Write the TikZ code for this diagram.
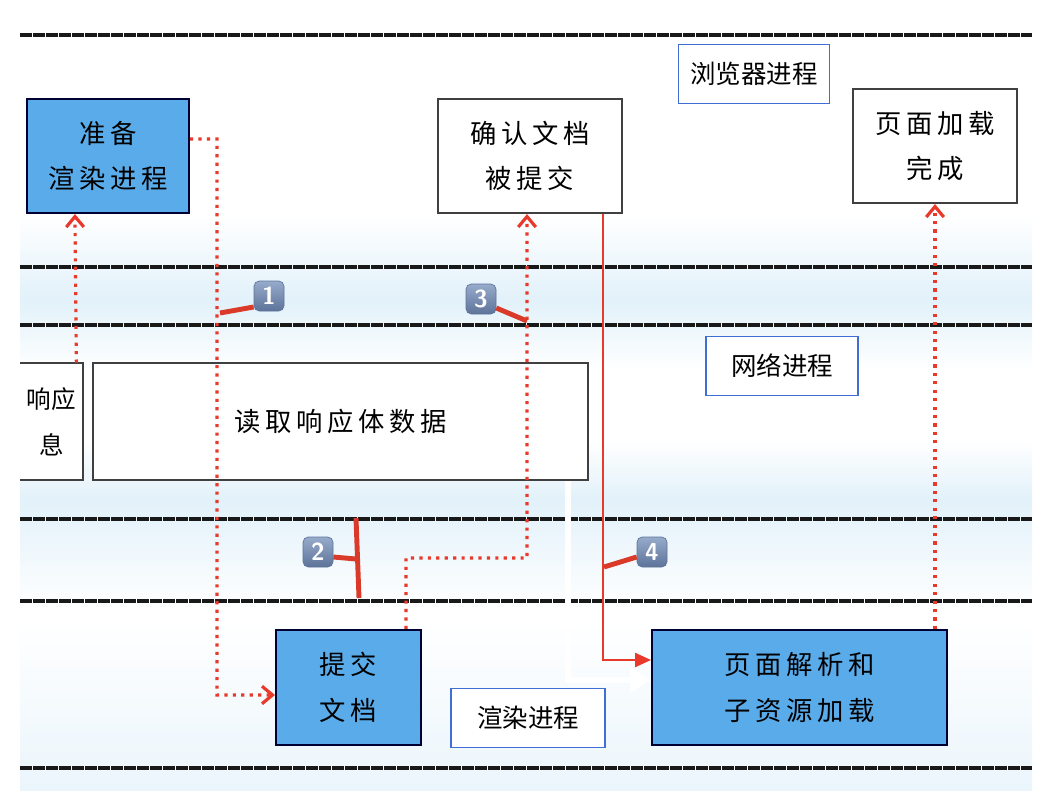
\documentclass[tikz,border=0pt]{standalone}
\usepackage{fontspec}
\usepackage{xcolor}
\usepackage{tikz}
\usetikzlibrary{arrows.meta}
\setmainfont{Noto Sans CJK SC}
\newfontfamily\hand[LetterSpace=18]{Noto Sans CJK SC}
\definecolor{boxblue}{HTML}{5AABEA}
\definecolor{linered}{HTML}{E8392B}
\definecolor{tickred}{HTML}{D93A2A}
\definecolor{tagblue}{HTML}{3F6FD6}
\definecolor{bgblue}{HTML}{E2F1FA}
\definecolor{badgetop}{HTML}{97ABCB}
\definecolor{badgebot}{HTML}{5D7399}

\begin{document}
\begin{tikzpicture}[x=0.02cm, y=-0.02cm,
  every node/.style={font=\fontsize{15}{26}\selectfont\hand},
  bluebox/.style={draw=black!80!blue, line width=1.2pt, fill=boxblue, align=center, inner sep=0pt},
  whitebox/.style={draw=black!75, line width=1.2pt, fill=white, align=center, inner sep=0pt},
  tag/.style={draw=tagblue, line width=1pt, fill=white, font=\fontsize{14.5}{17}\selectfont, minimum height=1.18cm},
  lane/.style={draw=black!90, line width=1.9pt, dash pattern=on 7pt off 0.4pt},
  dotline/.style={draw=linered, line width=1.8pt, dash pattern=on 1.8pt off 3pt, -{Straight Barb[length=6pt, width=10pt, line width=1.8pt]}},
  badge/.style={rounded corners=3pt, top color=badgetop, bottom color=badgebot, draw=badgebot, text=white,
    minimum size=0.6cm, inner sep=0pt, font=\sffamily\bfseries\fontsize{14}{14}\selectfont},
  tick/.style={draw=tickred, line width=2.8pt}]
\useasboundingbox (0,0) rectangle (1044,794);
\fill[white] (0,0) rectangle (1044,794);

% soft blue background
\shade[top color=white, bottom color=bgblue] (20,215) rectangle (1032,300);
\shade[top color=bgblue, bottom color=white] (20,300) rectangle (1032,370);
\shade[top color=white, bottom color=bgblue] (20,440) rectangle (1032,500);
\shade[top color=bgblue, bottom color=white] (20,500) rectangle (1032,610);
\shade[top color=white, bottom color=bgblue!70] (20,620) rectangle (1032,790);

% lanes
\foreach \y in {35,267,325,519,601,768}
  \draw[lane] (20,\y) -- (1032,\y);

% browser process
\node[bluebox, minimum width=3.24cm, minimum height=2.28cm] (prep) at (108,156) {准备\\渲染进程};
\node[whitebox, minimum width=3.68cm, minimum height=2.28cm] (confirm) at (530,156) {确认文档\\被提交};
\node[tag, minimum width=3.02cm] (browser) at (754,74) {浏览器进程};
\node[whitebox, minimum width=3.28cm, minimum height=2.28cm] (done) at (935,146) {页面加载\\完成};

% network process
\node[fill=white, minimum width=1.26cm, minimum height=2.34cm, inner sep=0pt, align=center,
  font=\fontsize{14}{26}\selectfont] (head) at (51.5,421.5) {响应\\息};
\draw[black!75, line width=1.2pt] (head.south west) -- (head.south east) -- (head.north east) -- (head.north west);
\node[whitebox, minimum width=9.9cm, minimum height=2.34cm] (body) at (340.5,421.5) {读取响应体数据};
\node[tag, minimum width=3.04cm] (network) at (782,366) {网络进程};

% renderer process
\node[bluebox, minimum width=2.9cm, minimum height=2.3cm] (submit) at (348.5,687.5) {提交\\文档};
\node[tag, minimum width=3.08cm] (render) at (528,718) {渲染进程};
\node[bluebox, minimum width=5.9cm, minimum height=2.3cm] (parse) at (799.5,687.5) {页面解析和\\子资源加载};

% connectors
\draw[dotline] ([xshift=-0.14cm]head.north east) -- ([xshift=0.98cm]prep.south west);
\draw[dotline] ([yshift=0.34cm]prep.east) -| (217,695) -- ([yshift=-0.15cm]submit.west);
\draw[dotline] ([xshift=1.15cm]submit.north) |- (527,558) -- ([xshift=-0.06cm]confirm.south);
\draw[draw=linered, line width=1pt, -{Triangle[length=9pt, width=8pt]}] ([xshift=1.46cm]confirm.south) |- ([yshift=0.55cm]parse.west);
\draw[white, line width=3.5pt, -{Triangle[length=12pt, width=14pt]}] ([xshift=4.55cm]body.south) |- ([yshift=0.15cm]parse.west);
\draw[dotline] (done.south |- parse.north) -- (done.south);

% step badges
\node[badge] (b1) at (269,296) {1};
\node[badge] (b2) at (318,552) {2};
\node[badge] (b3) at (481,299) {3};
\node[badge] (b4) at (652,552) {4};
\draw[tick] (220,313) -- (b1.west |- 0,307);
\draw[tick] (b3.east |- 0,308) -- (527,321);
\draw[tick] (356,518) -- (359,598);
\draw[tick] (b2.east |- 0,557) -- (356,559);
\draw[tick] (604,567) -- (b4.west |- 0,557);
\end{tikzpicture}
\end{document}
